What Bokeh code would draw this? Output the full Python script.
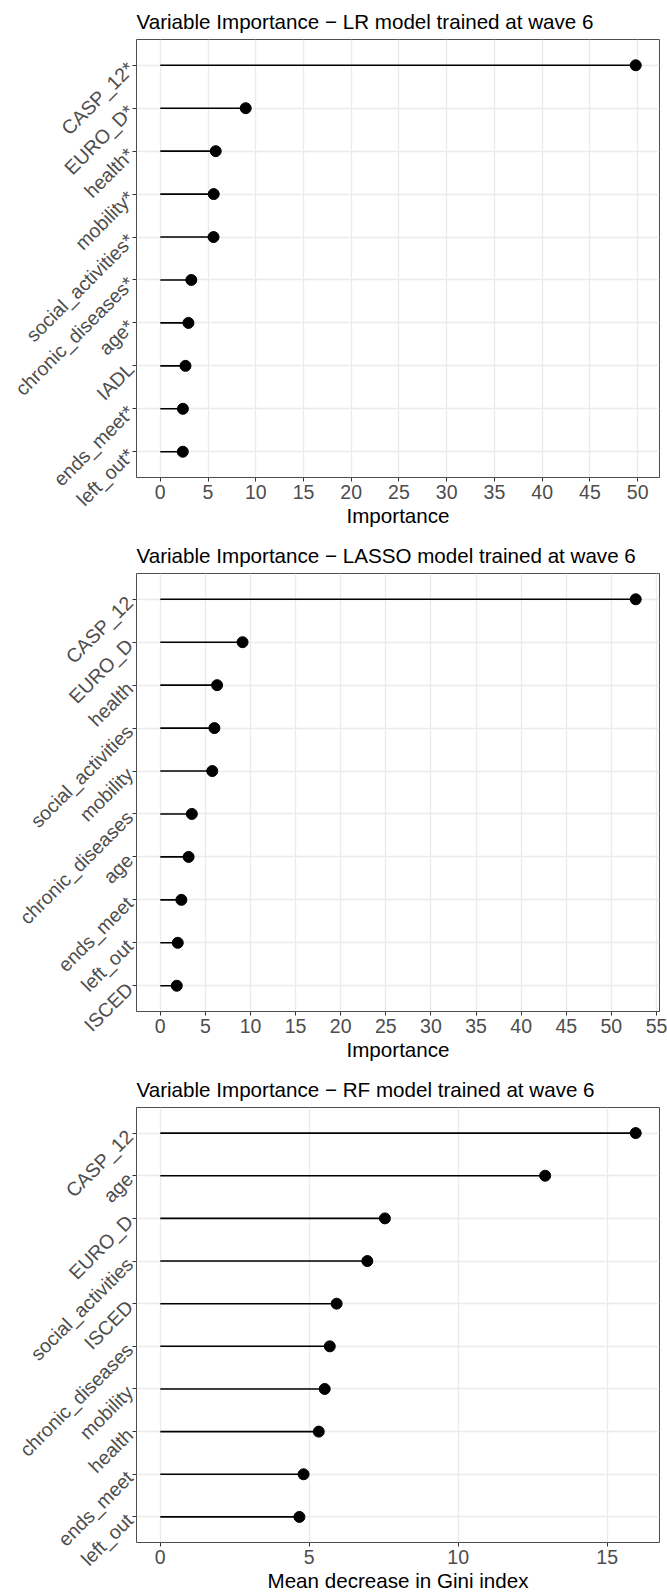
import math
from bokeh.plotting import figure
from bokeh.models import Range1d, FixedTicker, ColumnDataSource
from bokeh.layouts import column
from bokeh.embed import file_html
from bokeh.resources import INLINE

# ---- data ----
lr_vars = ["CASP_12*", "EURO_D*", "health*", "mobility*", "social_activities*",
           "chronic_diseases*", "age*", "IADL", "ends_meet*", "left_out*"]
lr_vals = [49.8, 8.95, 5.81, 5.6, 5.58, 3.25, 2.95, 2.64, 2.37, 2.36]

lasso_vars = ["CASP_12", "EURO_D", "health", "social_activities", "mobility",
              "chronic_diseases", "age", "ends_meet", "left_out", "ISCED"]
lasso_vals = [52.7, 9.12, 6.3, 6.0, 5.76, 3.5, 3.14, 2.34, 1.94, 1.83]

rf_vars = ["CASP_12", "age", "EURO_D", "social_activities", "ISCED",
           "chronic_diseases", "mobility", "health", "ends_meet", "left_out"]
rf_vals = [15.96, 12.92, 7.54, 6.95, 5.92, 5.69, 5.52, 5.32, 4.81, 4.67]

lr_ticks = [0, 5, 10, 15, 20, 25, 30, 35, 40, 45, 50]
lasso_ticks = [0, 5, 10, 15, 20, 25, 30, 35, 40, 45, 50, 55]
rf_ticks = [0, 5, 10, 15]

titles = ["Variable Importance \u2212 LR model trained at wave 6",
          "Variable Importance \u2212 LASSO model trained at wave 6",
          "Variable Importance \u2212 RF model trained at wave 6"]
xlabels = ["Importance", "Importance", "Mean decrease in Gini index"]

FONT = "Liberation Sans"
GRID = "#EBEBEB"
BORDER = "#4d4d4d"


def panel(vars_, vals, ticks, title, xlabel, height, b_top, b_bottom, b_left, y_standoff):
    vmax = max(vals)
    n = len(vars_)
    pos = list(range(n))  # rank position of each variable (0 = top)
    p = figure(width=667, height=height,
               y_range=Range1d(n - 1 + 0.6, -0.6),
               x_range=Range1d(-0.05 * vmax, 1.05 * vmax),
               output_backend="svg", toolbar_location=None,
               min_border_left=b_left, min_border_right=8,
               min_border_top=b_top, min_border_bottom=b_bottom)
    src = ColumnDataSource(dict(pos=pos, val=vals, zero=[0] * n))
    p.segment(x0="zero", y0="pos", x1="val", y1="pos", source=src,
              line_color="black", line_width=1.6)
    p.scatter(x="val", y="pos", source=src, size=11, color="black")

    p.title.text = title
    p.title.text_font = FONT
    p.title.text_font_size = "20.6px"
    p.title.text_font_style = "normal"
    p.title.text_color = "black"
    p.title.align = "left"
    p.title.standoff = 14

    p.background_fill_color = "white"
    p.border_fill_color = "white"
    p.outline_line_color = BORDER
    p.outline_line_width = 1

    p.xaxis.ticker = FixedTicker(ticks=ticks)
    p.xgrid.ticker = FixedTicker(ticks=ticks)
    p.yaxis.ticker = FixedTicker(ticks=pos)
    p.ygrid.ticker = FixedTicker(ticks=pos)
    p.yaxis.major_label_overrides = {i: v for i, v in zip(pos, vars_)}
    p.xgrid.grid_line_color = GRID
    p.ygrid.grid_line_color = GRID
    p.xgrid.grid_line_width = 1.3
    p.ygrid.grid_line_width = 1.3

    for ax in (p.xaxis[0], p.yaxis[0]):
        ax.axis_line_color = None
        ax.major_tick_line_color = "#333333"
        ax.major_tick_out = 4
        ax.major_tick_in = 0
        ax.minor_tick_line_color = None
        ax.major_label_text_font = FONT
        ax.major_label_text_font_size = "19.5px"
        ax.major_label_text_color = "#4D4D4D"

    p.xaxis.axis_label = xlabel
    p.xaxis.axis_label_text_font = FONT
    p.xaxis.axis_label_text_font_size = "20.6px"
    p.xaxis.axis_label_text_font_style = "normal"
    p.xaxis.axis_label_text_color = "black"
    p.xaxis.axis_label_standoff = 2
    p.xaxis.major_label_standoff = 3

    p.yaxis.major_label_orientation = math.pi / 4
    p.yaxis.major_label_standoff = y_standoff
    return p


p1 = panel(lr_vars, lr_vals, lr_ticks, titles[0], xlabels[0], 534, 39, 57, 136, 2)
p2 = panel(lasso_vars, lasso_vals, lasso_ticks, titles[1], xlabels[1], 534, 39, 57, 131, 3)
p3 = panel(rf_vars, rf_vals, rf_ticks, titles[2], xlabels[2], 528, 38, 54, 131, 3)

layout = column(p1, p2, p3, spacing=0)
open("out.html", "w").write(file_html(layout, INLINE))
